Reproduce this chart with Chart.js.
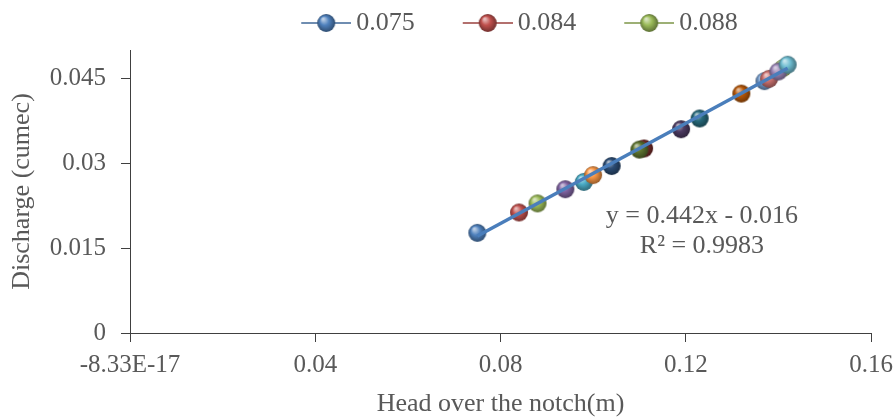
<!DOCTYPE html>
<html>
<head>
<meta charset="utf-8">
<script src="https://cdn.jsdelivr.net/npm/chart.js@4.4.1/dist/chart.umd.min.js"></script>
<style>
  body { margin: 0; background: #fff; }
  #chart { display: block; }
</style>
</head>
<body>
<canvas id="chart" width="893" height="418"></canvas>
<script>
// data (head in m, discharge in cumec)
const seriesNames = ['0.075', '0.084', '0.088', '0.094', '0.098', '0.100', '0.104', '0.111', '0.110',
                     '0.119', '0.123', '0.132', '0.137', '0.138', '0.141', '0.140', '0.142'];
const headValues = [0.075, 0.084, 0.088, 0.094, 0.098, 0.100, 0.104, 0.111, 0.110,
                    0.119, 0.123, 0.132, 0.137, 0.138, 0.141, 0.140, 0.142];
const dischargeValues = [0.0177, 0.0213, 0.0229, 0.0254, 0.0267, 0.0279, 0.0295, 0.0326, 0.0324,
                         0.0360, 0.0379, 0.0423, 0.0445, 0.0449, 0.0468, 0.0462, 0.0474];
const trendSlope = 0.442;
const trendIntercept = -0.016;
const equationLines = ['y = 0.442x - 0.016', 'R\u00B2 = 0.9983'];

const xTickValues = [0, 0.04, 0.08, 0.12, 0.16];
const xTickLabels = ['-8.33E-17', '0.04', '0.08', '0.12', '0.16'];
const yTickValues = [0, 0.015, 0.03, 0.045];
const yTickLabels = ['0', '0.015', '0.03', '0.045'];

// office style marker colours, one per series
const palette = ['#4F81BD', '#C0504D', '#9BBB59', '#8064A2', '#4BACC6', '#F79646',
                 '#2C4D75', '#772C2A', '#5F7530', '#4D3B62', '#276A7C', '#B65708',
                 '#729ACA', '#CD7371', '#AFC97A', '#9983B5', '#6FBDD1'];

const textColor = '#595959';
const axisColor = '#404040';
const fontFamily = '"Liberation Serif", "Times New Roman", serif';
const labelPos = [0.1235, 0.0206];

function shade(hex, amt) {
  const n = parseInt(hex.slice(1), 16);
  let r = n >> 16, g = (n >> 8) & 255, b = n & 255;
  const t = amt < 0 ? 0 : 255, p = Math.abs(amt);
  r = Math.round(r + (t - r) * p); g = Math.round(g + (t - g) * p); b = Math.round(b + (t - b) * p);
  return 'rgb(' + r + ',' + g + ',' + b + ')';
}

function drawSphere(g, cx, cy, r, color) {
  const grad = g.createRadialGradient(cx - r * 0.35, cy - r * 0.45, r * 0.1, cx, cy, r);
  grad.addColorStop(0, shade(color, 0.6));
  grad.addColorStop(0.45, color);
  grad.addColorStop(1, shade(color, -0.4));
  g.fillStyle = grad;
  g.beginPath();
  g.arc(cx, cy, r, 0, Math.PI * 2);
  g.fill();
}

function sphere(color, r) {
  const c = document.createElement('canvas');
  c.width = c.height = r * 2 + 4;
  drawSphere(c.getContext('2d'), r + 2, r + 2, r, color);
  return c;
}

// legend icon: line with a sphere, empty space on the left for item spacing
function legendIcon(color) {
  const c = document.createElement('canvas');
  c.width = 96; c.height = 24;
  const g = c.getContext('2d');
  g.strokeStyle = shade(color, -0.2);
  g.lineWidth = 1.5;
  g.beginPath(); g.moveTo(46, 12); g.lineTo(96, 12); g.stroke();
  drawSphere(g, 71, 12, 9, color);
  return c;
}

const pointDatasets = headValues.map((h, i) => ({
  label: seriesNames[i],
  data: [{ x: h, y: dischargeValues[i] }],
  pointStyle: sphere(palette[i], 9),
  pointRadius: 9,
  backgroundColor: palette[i],
  borderColor: palette[i],
  order: headValues.length - i
}));

const xFirst = headValues[0];
const xLast = Math.max(...headValues);
const trendDataset = {
  label: 'trend',
  data: [{ x: xFirst, y: trendSlope * xFirst + trendIntercept },
         { x: xLast, y: trendSlope * xLast + trendIntercept }],
  showLine: true,
  pointRadius: 0,
  borderColor: '#4A7EBB',
  borderWidth: 3.5,
  order: -1
};

const trendLabel = {
  id: 'trendLabel',
  afterDatasetsDraw(chart) {
    const { ctx, scales: { x, y } } = chart;
    const px = x.getPixelForValue(labelPos[0]);
    const py = y.getPixelForValue(labelPos[1]);
    ctx.save();
    ctx.font = '26px ' + fontFamily;
    ctx.fillStyle = textColor;
    ctx.textAlign = 'center';
    ctx.textBaseline = 'middle';
    ctx.fillText(equationLines[0], px, py);
    ctx.fillText(equationLines[1], px, py + 30);
    ctx.restore();
  }
};

// a little more room under the legend
const legendSpace = {
  id: 'legendSpace',
  afterInit(chart) {
    const legend = chart.legend;
    if (!legend) return;
    const fit = legend.fit;
    legend.fit = function () { fit.call(this); this.height += 4; };
  }
};

new Chart(document.getElementById('chart'), {
  type: 'scatter',
  data: { datasets: [...pointDatasets, trendDataset] },
  options: {
    responsive: false,
    animation: false,
    layout: { padding: 0 },
    plugins: {
      tooltip: { enabled: false },
      legend: {
        position: 'top',
        fullSize: false,
        labels: {
          usePointStyle: true,
          pointStyleWidth: 80,
          padding: 10,
          color: textColor,
          font: { family: fontFamily, size: 26 },
          filter: (item) => item.datasetIndex < 3,
          sort: (a, b) => a.datasetIndex - b.datasetIndex,
          generateLabels(chart) {
            const items = Chart.defaults.plugins.legend.labels.generateLabels(chart);
            items.forEach(it => { it.pointStyle = legendIcon(palette[it.datasetIndex] || '#000'); });
            return items;
          }
        }
      }
    },
    scales: {
      x: {
        type: 'linear',
        min: 0,
        max: 0.16,
        afterBuildTicks: (s) => { s.ticks = xTickValues.map(v => ({ value: v })); },
        // let the last label run to the canvas edge, as in the original
        afterFit: (s) => { s.height = 85; s.paddingRight = 22; },
        border: { color: axisColor, width: 1 },
        grid: { drawOnChartArea: false, tickLength: 9, color: axisColor },
        ticks: {
          autoSkip: false, maxRotation: 0, padding: 8,
          color: textColor, font: { family: fontFamily, size: 25 },
          callback: (v, i) => xTickLabels[i]
        },
        title: {
          display: true, text: 'Head over the notch(m)', color: textColor,
          font: { family: fontFamily, size: 26 }, padding: { top: 0, bottom: -2 }
        }
      },
      y: {
        min: 0,
        max: 0.05,
        afterBuildTicks: (s) => { s.ticks = yTickValues.map(v => ({ value: v })); },
        afterFit: (s) => { s.width = 130; },
        border: { color: axisColor, width: 1 },
        grid: { drawOnChartArea: false, tickLength: 9, color: axisColor },
        ticks: {
          padding: 15,
          color: textColor, font: { family: fontFamily, size: 25 },
          callback: (v, i) => yTickLabels[i]
        },
        title: {
          display: true, text: 'Discharge (cumec)', color: textColor,
          font: { family: fontFamily, size: 26 }, padding: { top: 7, bottom: 0 }
        }
      }
    }
  },
  plugins: [trendLabel, legendSpace]
});
</script>
</body>
</html>
